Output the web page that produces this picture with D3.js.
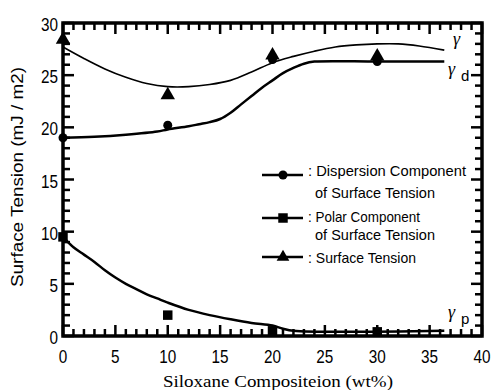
<!DOCTYPE html>
<html><head><meta charset="utf-8">
<script src="https://cdn.jsdelivr.net/npm/d3@7"></script>
<style>body{margin:0;background:#fff}svg{display:block}</style>
</head><body>
<svg id="c" width="492" height="390"></svg>
<script>
// Measured points
const xPts = [0, 10, 20, 30];
const dispersionPts = [19.0, 20.2, 26.5, 26.3];
const polarPts = [9.5, 2.0, 0.5, 0.4];
const tensionPts = [28.4, 23.1, 26.9, 26.8];
// Fitted curves
const gammaCurveX = [0, 2, 4, 6, 8, 10, 12, 14, 16, 18, 20, 22, 24, 26, 28, 30, 32, 34, 36.4];
const gammaCurveY = [27.7, 26.6, 25.6, 24.8, 24.2, 23.9, 23.9, 24.1, 24.5, 25.3, 26.2, 26.8, 27.3, 27.7, 27.9, 28.0, 28.0, 27.8, 27.4];
const dispCurveX = [0, 3, 6, 9, 10, 12, 13, 14, 15, 16, 17, 18, 19, 20, 21, 22, 23, 24, 30, 36.4];
const dispCurveY = [19.0, 19.1, 19.3, 19.6, 19.8, 20.1, 20.3, 20.5, 20.8, 21.4, 22.2, 23.0, 23.8, 24.5, 25.2, 25.7, 26.1, 26.3, 26.3, 26.3];
const polCurveX = [0, 1, 2, 3, 4, 5, 6, 7, 8, 9, 10, 12, 14, 16, 18, 20, 21, 22, 36.4];
const polCurveY = [9.5, 8.5, 7.8, 7.1, 6.3, 5.6, 5.0, 4.5, 4.0, 3.6, 3.2, 2.5, 2.0, 1.6, 1.25, 1.0, 0.7, 0.5, 0.5];
const xTicks = [0, 5, 10, 15, 20, 25, 30, 35, 40];
const yTicks = [0, 5, 10, 15, 20, 25, 30];
const legendLabels = [[": Dispersion Component", "of Surface Tension"], [": Polar Component", "of Surface Tension"], [": Surface Tension"]];

const svg = d3.select("#c");
const L = 63, R = 482, T = 23, B = 336;
const x = d3.scaleLinear().domain([0, 40]).range([L, R]);
const y = d3.scaleLinear().domain([0, 30]).range([B, T]);
const sans = "'Liberation Sans','Arial',sans-serif";
const serif = "'Liberation Serif','DejaVu Serif',serif";

// frame
svg.append("rect").attr("x",L).attr("y",T).attr("width",R-L).attr("height",B-T)
  .attr("fill","none").attr("stroke","#000").attr("stroke-width",3.5);

// tick labels (condensed)
svg.append("g").selectAll("text").data(xTicks).join("text")
  .attr("transform",d=>`translate(${x(d)},${B+27}) scale(0.85,1)`).attr("text-anchor","middle")
  .attr("font-family",sans).attr("font-size",18).text(d=>d);
svg.append("g").selectAll("text").data(yTicks).join("text")
  .attr("transform",d=>`translate(${L-5},${y(d)+8}) scale(0.85,1)`).attr("text-anchor","end")
  .attr("font-family",sans).attr("font-size",18).text(d=>d);

// axis titles
svg.append("text").attr("x",163).attr("y",387).attr("textLength",230).attr("lengthAdjust","spacingAndGlyphs")
  .attr("font-family",serif).attr("font-size",17).text("Siloxane Compositeion (wt%)");
svg.append("text").attr("transform","translate(23,287) rotate(-90)").attr("textLength",220).attr("lengthAdjust","spacingAndGlyphs")
  .attr("font-family",sans).attr("font-size",16).text("Surface Tension (mJ / m2)");

// curves
const line = d3.line().x(d=>x(d[0])).y(d=>y(d[1])).curve(d3.curveCatmullRom);
svg.append("path").datum(gammaCurveX.map((v,i)=>[v,gammaCurveY[i]])).attr("d",line)
  .attr("fill","none").attr("stroke","#000").attr("stroke-width",1.6);
svg.append("path").datum(dispCurveX.map((v,i)=>[v,dispCurveY[i]])).attr("d",line)
  .attr("fill","none").attr("stroke","#000").attr("stroke-width",2.5);
svg.append("path").datum(polCurveX.map((v,i)=>[v,polCurveY[i]])).attr("d",line)
  .attr("fill","none").attr("stroke","#000").attr("stroke-width",2.5);

// markers
const tri = d3.symbol().type(d3.symbolTriangle).size(90);
const sq = d3.symbol().type(d3.symbolSquare).size(90);
svg.append("g").selectAll("path").data(xPts).join("path")
  .attr("transform",(d,i)=>`translate(${x(d)},${y(tensionPts[i])})`).attr("d",tri()).attr("fill","#000");
svg.append("g").selectAll("circle").data(xPts).join("circle")
  .attr("cx",d=>x(d)).attr("cy",(d,i)=>y(dispersionPts[i])).attr("r",4.5).attr("fill","#000");
svg.append("g").selectAll("path").data(xPts).join("path")
  .attr("transform",(d,i)=>`translate(${x(d)},${y(polarPts[i])})`).attr("d",sq()).attr("fill","#000");

// curve labels
function glabel(xp, yp, sub){
  const t = svg.append("text").attr("x",xp).attr("y",yp).attr("font-family",serif).attr("font-size",18).attr("font-style","italic");
  t.append("tspan").text("γ");
  if(sub) t.append("tspan").attr("dx",6).attr("dy",6).attr("font-style","normal").attr("font-family",sans).attr("font-size",15).text(sub);
}
glabel(453, 45, null);
glabel(448, 75, "d");
glabel(448, 318, "p");

// legend
const legY = [175, 218, 257];
const textBase = [[176, 198], [222, 240], [263]];
const textLen = [[158, 120], [112, 120], [108]];
const markers = ["circle","square","triangle"];
legY.forEach((ly,i)=>{
  svg.append("line").attr("x1",262).attr("x2",303).attr("y1",ly).attr("y2",ly).attr("stroke","#000").attr("stroke-width",2.5);
  const cx = 283;
  if(markers[i]==="circle") svg.append("circle").attr("cx",cx).attr("cy",ly).attr("r",4.5).attr("fill","#000");
  if(markers[i]==="square") svg.append("path").attr("transform",`translate(${cx},${ly})`).attr("d",sq()).attr("fill","#000");
  if(markers[i]==="triangle") svg.append("path").attr("transform",`translate(${cx},${ly})`).attr("d",d3.symbol().type(d3.symbolTriangle).size(70)()).attr("fill","#000");
  legendLabels[i].forEach((s,j)=>{
    svg.append("text").attr("x", j===0 ? 308 : 315).attr("y", textBase[i][j])
      .attr("textLength",textLen[i][j]).attr("lengthAdjust","spacingAndGlyphs")
      .attr("font-family",sans).attr("font-size",15).text(s);
  });
});

// inward ticks on all 4 sides (drawn last)
const minorX = d3.range(0, 41, 1), minorY = d3.range(0, 31, 1);
function tickLen(v){ return v % 5 === 0 ? 11 : 7; }
const tk = svg.append("g").attr("id","ticks");
tk.selectAll(".tb").data(minorX).join("line").attr("class","tb")
  .attr("x1",d=>x(d)).attr("x2",d=>x(d)).attr("y1",B).attr("y2",d=>B-tickLen(d))
  .attr("stroke","black").attr("stroke-width",2.5);
tk.selectAll(".tt").data(minorX).join("line").attr("class","tt")
  .attr("x1",d=>x(d)).attr("x2",d=>x(d)).attr("y1",T).attr("y2",d=>T+tickLen(d))
  .attr("stroke","black").attr("stroke-width",2.5);
tk.selectAll(".tl").data(minorY).join("line").attr("class","tl")
  .attr("y1",d=>y(d)).attr("y2",d=>y(d)).attr("x1",L).attr("x2",d=>L+tickLen(d))
  .attr("stroke","black").attr("stroke-width",2.5);
tk.selectAll(".tr").data(minorY).join("line").attr("class","tr")
  .attr("y1",d=>y(d)).attr("y2",d=>y(d)).attr("x1",R).attr("x2",d=>R-tickLen(d))
  .attr("stroke","black").attr("stroke-width",2.5);
</script>
</body></html>
